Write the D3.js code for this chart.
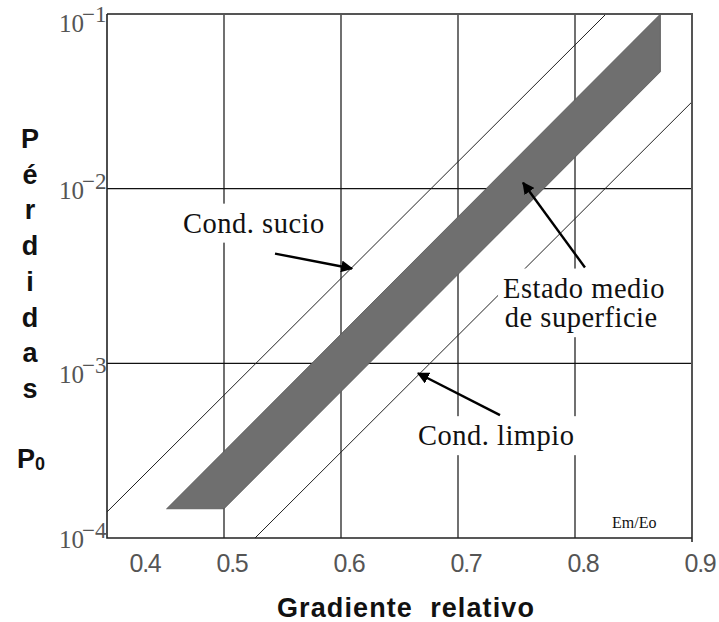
<!DOCTYPE html>
<html>
<head>
<meta charset="utf-8">
<script src="https://cdn.jsdelivr.net/npm/d3@7"></script>
<style>
  html, body { margin: 0; padding: 0; background: #fff; }
  svg { display: block; }
</style>
</head>
<body>
<svg id="chart" width="719" height="622"></svg>
<script>
// Axis ticks
const xTicks = [0.4, 0.5, 0.6, 0.7, 0.8, 0.9];
const xGrid = [0.5, 0.6, 0.7, 0.8];
const yExponents = [-1, -2, -3, -4];
const yGrid = [1e-2, 1e-3];

// Shaded band: average surface state
const bandX = [0.451, 0.5, 0.873, 0.873];
const bandP = [1.47e-4, 1.47e-4, 0.0467, 0.1];

// Dirty conductor limit line
const dirtyX = [0.4, 0.8265];
const dirtyP = [1.41e-4, 0.1];

// Clean conductor limit line
const cleanX = [0.5265, 0.9];
const cleanP = [1e-4, 0.0314];

// Annotation labels (text, x, P)
const labelText = ["Cond. sucio", "Estado medio", "de superficie", "Cond. limpio"];
const labelX = [0.465, 0.7385, 0.740, 0.6658];
const labelP = [5.6e-3, 2.38e-3, 1.61e-3, 3.4e-4];

// Arrows: tail -> head
const arrowX0 = [0.5436, 0.8085, 0.7359];
const arrowP0 = [4.25e-3, 3.54e-3, 5.05e-4];
const arrowX1 = [0.6094, 0.7556, 0.6658];
const arrowP1 = [3.49e-3, 0.0108, 8.77e-4];

const yTitleLetters = ["P", "é", "r", "d", "i", "d", "a", "s"];

const svg = d3.select("#chart");
const W = 719, H = 622;
const L = 107, R = 692, T = 14, B = 538;

const x = d3.scaleLinear().domain([0.4, 0.9]).range([L, R]);
const y = d3.scaleLog().domain([1e-4, 1e-1]).range([B, T]);

svg.append("rect").attr("width", W).attr("height", H).attr("fill", "#fff");

// grid
const g = svg.append("g");
g.selectAll(".vg").data(xGrid).join("line")
  .attr("x1", d => x(d)).attr("x2", d => x(d))
  .attr("y1", T).attr("y2", B)
  .attr("stroke", "#111").attr("stroke-width", 1.2);
g.selectAll(".hg").data(yGrid).join("line")
  .attr("x1", L).attr("x2", R)
  .attr("y1", d => y(d)).attr("y2", d => y(d))
  .attr("stroke", "#111").attr("stroke-width", 1.2);

// band
const bandPts = bandX.map((v, i) => [x(v), y(bandP[i])]);
svg.append("path")
  .attr("d", d3.line()(bandPts) + "Z")
  .attr("fill", "#6f6f6f").attr("stroke", "#555").attr("stroke-width", 0.8);

// limit lines
const line = d3.line();
svg.append("path")
  .attr("d", line(dirtyX.map((v, i) => [x(v), y(dirtyP[i])])))
  .attr("fill", "none").attr("stroke", "#222").attr("stroke-width", 1);
svg.append("path")
  .attr("d", line(cleanX.map((v, i) => [x(v), y(cleanP[i])])))
  .attr("fill", "none").attr("stroke", "#222").attr("stroke-width", 1);

// frame
svg.append("path")
  .attr("d", `M${L},${T}H${R}V${B + 4}`)
  .attr("fill", "none").attr("stroke", "#555").attr("stroke-width", 2);
svg.append("path")
  .attr("d", `M${L},${T}V${B}H${R}`)
  .attr("fill", "none").attr("stroke", "#222").attr("stroke-width", 1.6);

// annotation labels with white backing
const labels = svg.append("g");
labelText.forEach((t, i) => {
  const txt = labels.append("text")
    .attr("x", x(labelX[i])).attr("y", y(labelP[i]))
    .attr("font-family", "'Liberation Serif', 'Times New Roman', serif")
    .attr("font-size", 28.5)
    .attr("letter-spacing", 0.5)
    .attr("fill", "#111")
    .text(t);
  const bb = txt.node().getBBox();
  labels.insert("rect", "text")
    .attr("x", bb.x - 5).attr("y", bb.y - 4)
    .attr("width", bb.width + 10).attr("height", bb.height + 8)
    .attr("fill", "#fff");
});

// arrows
const defs = svg.append("defs");
defs.append("marker")
  .attr("id", "ah").attr("viewBox", "0 0 10 10")
  .attr("refX", 9).attr("refY", 5)
  .attr("markerWidth", 5).attr("markerHeight", 5)
  .attr("markerUnits", "strokeWidth")
  .attr("orient", "auto")
  .append("path").attr("d", "M0,0L10,5L0,10Z").attr("fill", "#000");
arrowX0.forEach((v, i) => {
  svg.append("line")
    .attr("x1", x(v)).attr("y1", y(arrowP0[i]))
    .attr("x2", x(arrowX1[i])).attr("y2", y(arrowP1[i]))
    .attr("stroke", "#000").attr("stroke-width", 2.4)
    .attr("marker-end", "url(#ah)");
});

// Em/Eo
svg.append("text")
  .attr("x", x(0.8316)).attr("y", y(1.14e-4))
  .attr("font-family", "'Liberation Serif', 'Times New Roman', serif")
  .attr("font-size", 16).attr("fill", "#111")
  .text("Em/Eo");

// x tick labels
svg.selectAll(".xt").data(xTicks).join("text")
  .attr("x", d => x(d) + (d === 0.4 ? 38 : 8))
  .attr("y", 572)
  .attr("text-anchor", "middle")
  .attr("font-family", "'Liberation Sans', Arial, sans-serif")
  .attr("font-size", 25).attr("letter-spacing", -1.2)
  .attr("fill", "#555")
  .text(d => d.toFixed(1));

// y tick labels: 10 with superscript exponent
const yLabelShift = { "-1": 18, "-2": 10, "-3": 20, "-4": 10 };
const yl = svg.selectAll(".yt").data(yExponents).join("text")
  .attr("x", 59)
  .attr("y", d => y(Math.pow(10, d)) + yLabelShift[d])
  .attr("font-family", "'Liberation Serif', 'Times New Roman', serif")
  .attr("font-size", 25).attr("fill", "#555");
yl.append("tspan").text("10");
yl.append("tspan").attr("dx", -2).attr("dy", -10).attr("font-size", 23)
  .text(d => "\u2212" + Math.abs(d));

// axis titles
svg.append("text")
  .attr("x", 406).attr("y", 617)
  .attr("text-anchor", "middle")
  .attr("font-family", "'Liberation Sans', Arial, sans-serif")
  .attr("font-weight", "bold").attr("font-size", 27)
  .attr("letter-spacing", 1.1).attr("fill", "#111")
  .text("Gradiente\u00a0 relativo");

svg.selectAll(".yl").data(yTitleLetters).join("text")
  .attr("x", 30)
  .attr("y", (d, i) => 148 + i * 35.7)
  .attr("text-anchor", "middle")
  .attr("font-family", "'Liberation Sans', Arial, sans-serif")
  .attr("font-weight", "bold").attr("font-size", 27).attr("fill", "#111")
  .text(d => d);

const p0 = svg.append("text")
  .attr("x", 17).attr("y", 468)
  .attr("font-family", "'Liberation Sans', Arial, sans-serif")
  .attr("font-weight", "bold").attr("font-size", 27).attr("fill", "#111");
p0.append("tspan").text("P");
p0.append("tspan").attr("font-size", 18).attr("dy", 2).text("0");
</script>
</body>
</html>
